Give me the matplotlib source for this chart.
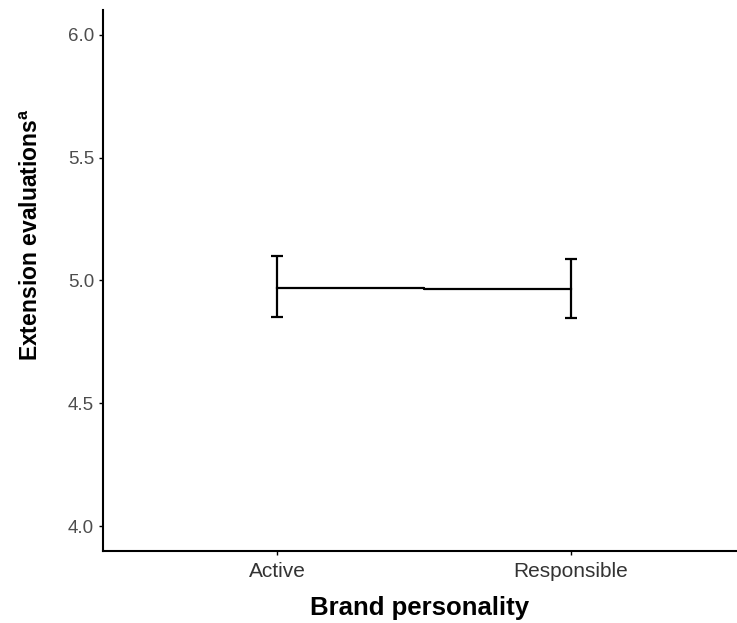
import numpy as np
import matplotlib.pyplot as plt

plt.rcParams['font.family'] = ['Liberation Sans', 'DejaVu Sans']
plt.rcParams['mathtext.fontset'] = 'custom'
plt.rcParams['mathtext.rm'] = 'Liberation Sans'
plt.rcParams['mathtext.bf'] = 'Liberation Sans:bold'

# Data
categories = ["Active", "Responsible"]
means = [4.970, 4.965]
lower = [4.853, 4.848]
upper = [5.100, 5.088]

x = np.arange(1, len(categories) + 1)
yerr = [np.array(means) - np.array(lower), np.array(upper) - np.array(means)]

fig = plt.figure(figsize=(7.37, 6.23), dpi=100)
ax = fig.add_axes([0.1398, 0.1156, 0.8602, 0.8684])

ax.plot(x, means, color="black", lw=1.6, drawstyle="steps-mid")
ax.errorbar(x, means, yerr=yerr, fmt="none", ecolor="black",
            elinewidth=1.6, capsize=4, capthick=1.6)

ax.set_xlim(0.408, 2.565)
ax.set_ylim(3.9, 6.1)
ax.set_xticks(x)
ax.set_xticklabels(categories)
ax.set_yticks([4.0, 4.5, 5.0, 5.5, 6.0])
ax.set_yticklabels(["4.0", "4.5", "5.0", "5.5", "6.0"])

for s in ["top", "right"]:
    ax.spines[s].set_visible(False)
for s in ["left", "bottom"]:
    ax.spines[s].set_linewidth(1.5)

ax.tick_params(axis="y", labelsize=13.5, labelcolor="#4d4d4d", length=3, width=1.0, pad=3.5)
ax.tick_params(axis="x", labelsize=15, labelcolor="#333333", length=3, width=1.0, pad=5)

ax.set_xlabel("Brand personality", fontsize=18.5, fontweight="bold")
ax.set_ylabel(r"Extension evaluations$^\mathbf{a}$", fontsize=16.5, fontweight="bold")
ax.xaxis.set_label_coords(0.5, -0.083)
ax.yaxis.set_label_coords(-0.094, 0.584)

fig.savefig("out.png", dpi=100)
